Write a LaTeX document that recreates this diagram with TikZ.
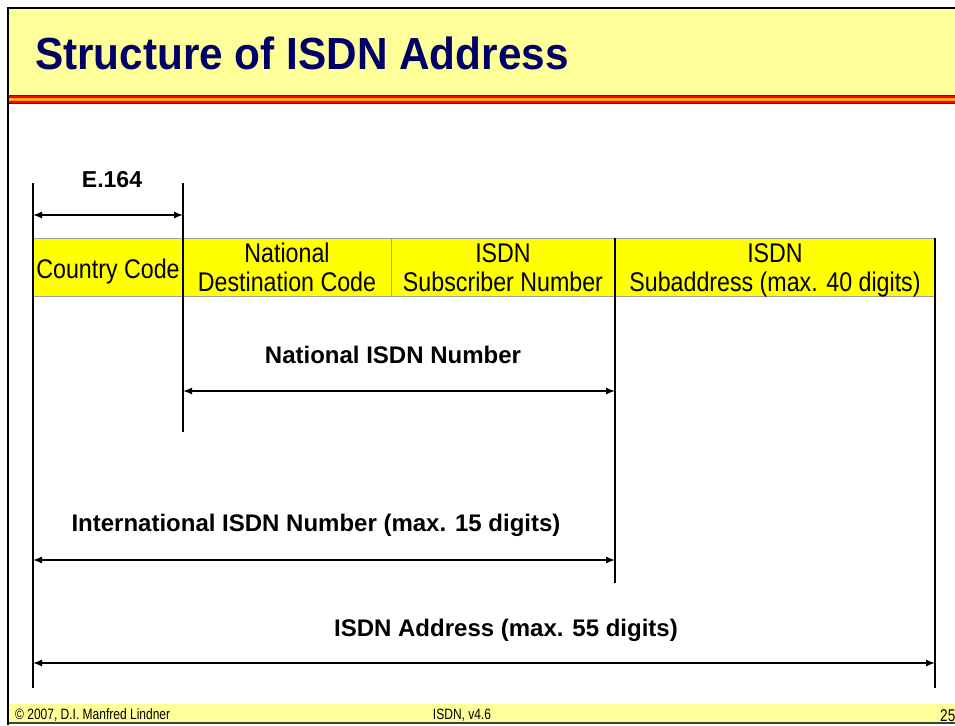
\documentclass[tikz,border=0pt]{standalone}
\usepackage{fontspec}
\setmainfont{Liberation Sans}
\usepackage{graphicx}
\usetikzlibrary{arrows.meta}
\definecolor{titlebg}{HTML}{FFFF99}
\definecolor{cellbg}{HTML}{FFFF00}
\definecolor{navy}{HTML}{000066}
\definecolor{cellline}{HTML}{A0A0A0}
\definecolor{sdark}{HTML}{990000}
\definecolor{sred}{HTML}{FF0000}
\definecolor{sorange}{HTML}{FF9900}
\definecolor{syellow}{HTML}{FFCC00}
\newcommand\nar[1]{\scalebox{0.86}[1]{#1}}
\newcommand\narf[1]{\scalebox{0.8}[1]{#1}}
\tikzset{
  cell/.style={draw=cellline, line width=0.8pt, fill=cellbg, minimum height=58pt, inner sep=0pt, anchor=north west},
  celltxt/.style={font=\fontsize{27}{31}\selectfont, anchor=base, inner sep=0pt},
  lbl/.style={font=\bfseries\fontsize{24}{28}\selectfont, anchor=base, inner sep=0pt},
  foot/.style={font=\fontsize{15}{17}\selectfont, anchor=base west, inner sep=0pt},
  vline/.style={line width=1.4pt, black},
  dimarrow/.style={line width=1.4pt, {Latex[length=9pt,width=7pt]}-{Latex[length=9pt,width=7pt]}},
}
\begin{document}
\begin{tikzpicture}[x=1pt,y=-1pt]
\useasboundingbox (0,0) rectangle (955,725);
\fill[white] (0,0) rectangle (955,725);
% title band
\fill[titlebg] (8,8) rectangle (955,95);
\fill[sdark] (8,95) rectangle (955,96.3);
\fill[sred] (8,96.3) rectangle (955,97.6);
\fill[sorange] (8,97.6) rectangle (955,98.9);
\fill[syellow] (8,98.9) rectangle (955,100.1);
\fill[sorange] (8,100.1) rectangle (955,101.4);
\fill[sred] (8,101.4) rectangle (955,102.7);
\fill[sdark] (8,102.7) rectangle (955,104);
\node[font=\bfseries\fontsize{45}{50}\selectfont, text=navy, anchor=base west, inner sep=0pt] (title) at (35,70) {\scalebox{0.94}[1]{Structure of ISDN Address}};
% footer
\fill[titlebg] (8,704) rectangle (955,723);
\draw[line width=1.5pt, black!75] (8,723) -- (955,723);
\node[foot] (copy) at (15,719) {\narf{© 2007, D.I. Manfred Lindner}};
\node[foot, anchor=base] (ver) at (462,719) {\narf{ISDN, v4.6}};
\node[foot, font=\fontsize{17}{19}\selectfont] (page) at (940,721) {\narf{25}};
% frame
\draw[line width=2.5pt] (8,725) -- (8,8) -- (956,8);
% cells
\node[cell, minimum width=150pt] (c1) at (33,238) {};
\node[cell, minimum width=208pt] (c2) at (183,238) {};
\node[cell, minimum width=224pt] (c3) at (391,238) {};
\node[cell, minimum width=320pt] (c4) at (615,238) {};
\node[celltxt] (t1) at (108,278) {\nar{Country Code}};
\node[celltxt] (t2a) at (287,262) {\nar{National}};
\node[celltxt] (t2b) at (287,291) {\nar{Destination Code}};
\node[celltxt] (t3a) at (503,262) {\nar{ISDN}};
\node[celltxt] (t3b) at (503,291) {\nar{Subscriber Number}};
\node[celltxt] (t4a) at (775,262) {\nar{ISDN}};
\node[celltxt] (t4b) at (775,291) {\nar{Subaddress (max. 40 digits)}};
% vertical lines
\coordinate (v1t) at (33,183); \coordinate (v1b) at (33,688);
\coordinate (v2t) at (183,183); \coordinate (v2b) at (183,432);
\coordinate (v3t) at (615,238); \coordinate (v3b) at (615,583);
\coordinate (v4t) at (935,238); \coordinate (v4b) at (935,688);
\draw[vline] (v1t) -- (v1b);
\draw[vline] (v2t) -- (v2b);
\draw[vline] (v3t) -- (v3b);
\draw[vline] (v4t) -- (v4b);
% dimension arrows
\coordinate (e1) at (33,215); \coordinate (e2) at (183,215);
\draw[dimarrow] (e1) -- (e2);
\node[lbl, font=\bfseries\fontsize{23}{27}\selectfont] (le) at (112,187) {E.164};
\coordinate (n1) at (183,391); \coordinate (n2) at (615,391);
\draw[dimarrow] (n1) -- (n2);
\node[lbl] (ln) at (393,363) {National ISDN Number};
\coordinate (i1) at (33,560); \coordinate (i2) at (615,560);
\draw[dimarrow] (i1) -- (i2);
\node[lbl] (li) at (316,531) {International ISDN Number (max. 15 digits)};
\coordinate (a1) at (33,663); \coordinate (a2) at (935,663);
\draw[dimarrow] (a1) -- (a2);
\node[lbl] (la) at (506,636) {ISDN Address (max. 55 digits)};
\end{tikzpicture}
\end{document}
